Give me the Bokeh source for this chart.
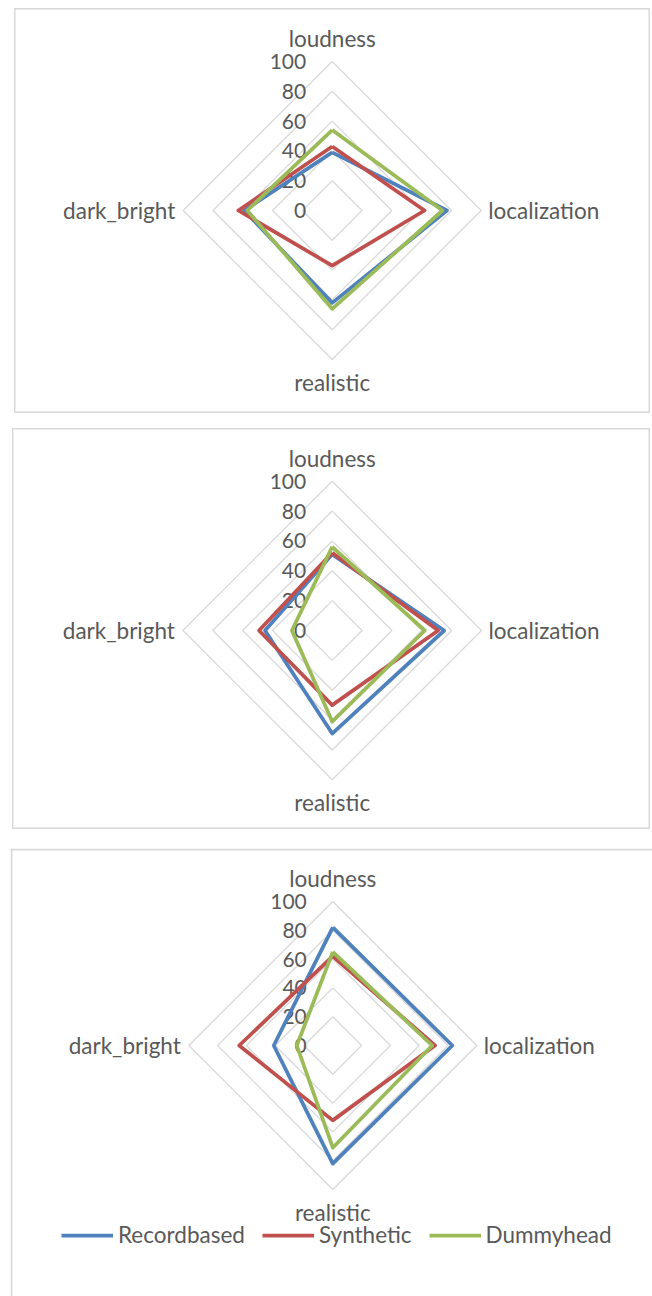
import math
from bokeh.plotting import figure
from bokeh.layouts import column
from bokeh.models import Range1d, Legend, LegendItem
from bokeh.core.properties import value
from bokeh.embed import file_html
from bokeh.resources import INLINE

# ---------------- data ----------------
categories = ["loudness", "localization", "realistic", "dark_bright"]
series_names = ["Recordbased", "Synthetic", "Dummyhead"]
tick_values = [0, 20, 40, 60, 80, 100]
tick_labels = ["0", "20", "40", "60", "80", "100"]
ring_values = [20, 40, 60, 80, 100]

panel1_recordbased = [39, 77, 62, 59]
panel1_synthetic = [43, 62, 37, 63]
panel1_dummyhead = [54, 74, 66, 57]

panel2_recordbased = [51, 75, 69, 45]
panel2_synthetic = [52, 71, 50, 49]
panel2_dummyhead = [56, 62, 61, 27]

panel3_recordbased = [82, 83, 82, 41]
panel3_synthetic = [62, 71, 52, 65]
panel3_dummyhead = [65, 69, 71, 25]

COLORS = ["#4F81BD", "#C0504D", "#9BBB59"]
TEXT = "#595959"
GRID = "#D9D9D9"
FONT = "Lato"
FS = "22.5px"
TICK_FS = "21px"

N = len(categories)
angles = [math.pi / 2 - 2 * math.pi * k / N for k in range(N)]


def polar(vals):
    xs = [v * math.cos(a) for v, a in zip(vals, angles)]
    ys = [v * math.sin(a) for v, a in zip(vals, angles)]
    return xs + xs[:1], ys + ys[:1]


def make_panel(series, width, height, cx, cy, s, margin, outline=True):
    p = figure(width=width, height=height, output_backend="svg", toolbar_location=None,
               x_range=Range1d(-cx / s, (width - cx) / s),
               y_range=Range1d(-(height - cy) / s, cy / s),
               min_border=0, x_axis_location=None, y_axis_location=None)
    p.margin = margin
    p.xgrid.visible = False
    p.ygrid.visible = False
    p.background_fill_color = "white"
    p.border_fill_color = "white"
    if outline:
        p.outline_line_color = GRID
        p.outline_line_width = 2
    else:
        p.outline_line_color = None

    # rings
    for r in ring_values:
        xs, ys = polar([r] * N)
        p.line(xs, ys, line_color=GRID, line_width=1.3)

    # tick labels
    p.text(x=[0] * len(tick_values), y=tick_values, text=tick_labels,
           x_offset=-26, text_align="right", text_baseline="middle",
           text_font=value(FONT), text_font_size=TICK_FS, text_color=TEXT)

    # category labels
    offs = {"loudness": (0, -23, "center"), "localization": (7, 0, "left"),
            "realistic": (0, 23, "center"), "dark_bright": (-8, 0, "right")}
    for cat, a in zip(categories, angles):
        dx, dy, al = offs[cat]
        p.text(x=[100 * math.cos(a)], y=[100 * math.sin(a)], text=[cat],
               x_offset=dx, y_offset=dy, text_align=al, text_baseline="middle",
               text_font=value(FONT), text_font_size=FS, text_color=TEXT)

    rends = []
    for name, vals, col in zip(series_names, series, COLORS):
        xs, ys = polar(vals)
        r = p.line(xs, ys, line_color=col, line_width=3.75, line_join="round")
        rends.append(r)
    return p, rends


p1, _ = make_panel([panel1_recordbased, panel1_synthetic, panel1_dummyhead],
                   636, 405, 317.7, 202, 1.49, (8, 0, 0, 14))
p2, _ = make_panel([panel2_recordbased, panel2_synthetic, panel2_dummyhead],
                   638, 401, 319.7, 202, 1.493, (15, 0, 0, 12))
W3, H3, S3 = 642, 448, 1.44
p3, rends = make_panel([panel3_recordbased, panel3_synthetic, panel3_dummyhead],
                       W3, H3, 322.3, 197, S3, (19, 0, 0, 10), outline=False)
# top and left border of the third box (its right/bottom lie outside the window)
x0, x1 = p3.x_range.start, p3.x_range.end
y0, y1 = p3.y_range.start, p3.y_range.end
p3.segment(x0=[x0, x0 + 1 / S3], y0=[y1 - 1 / S3, y0], x1=[x1, x0 + 1 / S3], y1=[y1 - 1 / S3, y1],
           line_color=GRID, line_width=2)

legend = Legend(items=[LegendItem(label=n, renderers=[r]) for n, r in zip(series_names, rends)],
                orientation="horizontal", location=(51, 48),
                border_line_color=None, background_fill_alpha=0,
                padding=0, margin=0, spacing=17, glyph_width=52, glyph_height=24,
                label_height=24, label_standoff=5,
                label_text_font=FONT, label_text_font_size=FS, label_text_color=TEXT)
p3.add_layout(legend)

layout = column(p1, p2, p3, spacing=0)
open("out.html", "w").write(file_html(layout, INLINE))
